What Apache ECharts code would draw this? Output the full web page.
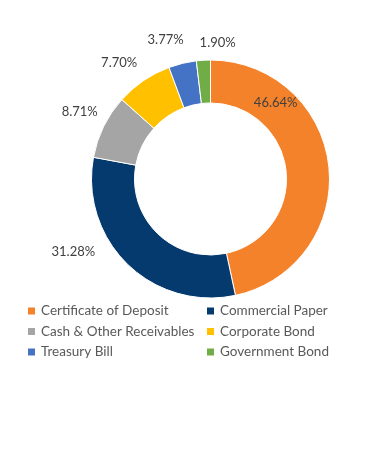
<!DOCTYPE html>
<html>
<head>
<meta charset="utf-8">
<script src="https://cdn.jsdelivr.net/npm/echarts@6/dist/echarts.min.js"></script>
<style>
html,body{margin:0;padding:0;background:#fff;}
#chart{width:391px;height:467px;}
</style>
</head>
<body>
<div id="chart"></div>
<script>
var categories = ['Certificate of Deposit', 'Commercial Paper', 'Cash & Other Receivables', 'Corporate Bond', 'Treasury Bill', 'Government Bond'];
var values = [46.64, 31.28, 8.71, 7.70, 3.77, 1.90];
var colors = ['#F4822A', '#053A6E', '#A5A5A5', '#FFC000', '#4472C4', '#70AD47'];
var legendCol1 = ['Certificate of Deposit', 'Cash & Other Receivables', 'Treasury Bill'];
var legendCol2 = ['Commercial Paper', 'Corporate Bond', 'Government Bond'];

var labelOffsets = [[-82, -61], [-34, -33], [2, -2], [-8, 6], [-10, 5], [16, 12]];

var chart = echarts.init(document.getElementById('chart'), null, {renderer: 'canvas'});
var font = 'Lato, "Open Sans", sans-serif';

var mainData = categories.map(function (c, i) {
  return {name: c, value: values[i], itemStyle: {color: colors[i]}};
});
var labelData = categories.map(function (c, i) {
  return {
    name: c, value: values[i],
    label: {offset: labelOffsets[i]}
  };
});

var legendCommon = {
  orient: 'vertical',
  icon: 'rect',
  itemWidth: 9,
  itemHeight: 9,
  itemGap: 5.5,
  padding: 0,
  textStyle: {fontFamily: font, fontSize: 13.5, color: '#595959', lineHeight: 15},
  selectedMode: false
};

chart.setOption({
  animation: false,
  color: colors,
  legend: [
    Object.assign({left: 26, top: 303.5, data: legendCol1}, legendCommon),
    Object.assign({left: 205, top: 303.5, data: legendCol2}, legendCommon)
  ],
  series: [
    {
      type: 'pie',
      center: [210.5, 179],
      radius: [76, 119],
      startAngle: 90,
      clockwise: true,
      data: mainData,
      itemStyle: {borderColor: '#ffffff', borderWidth: 1},
      label: {show: false},
      labelLine: {show: false},
      emphasis: {disabled: true}
    },
    {
      type: 'pie',
      center: [210.5, 179],
      radius: [140, 150],
      startAngle: 90,
      clockwise: true,
      silent: true,
      data: labelData,
      itemStyle: {color: 'rgba(0,0,0,0)'},
      label: {
        show: true,
        position: 'inside',
        formatter: function (p) { return p.value.toFixed(2) + '%'; },
        fontFamily: font,
        fontSize: 13,
        color: '#404040'
      },
      labelLine: {show: false},
      emphasis: {disabled: true}
    }
  ]
});
</script>
</body>
</html>
